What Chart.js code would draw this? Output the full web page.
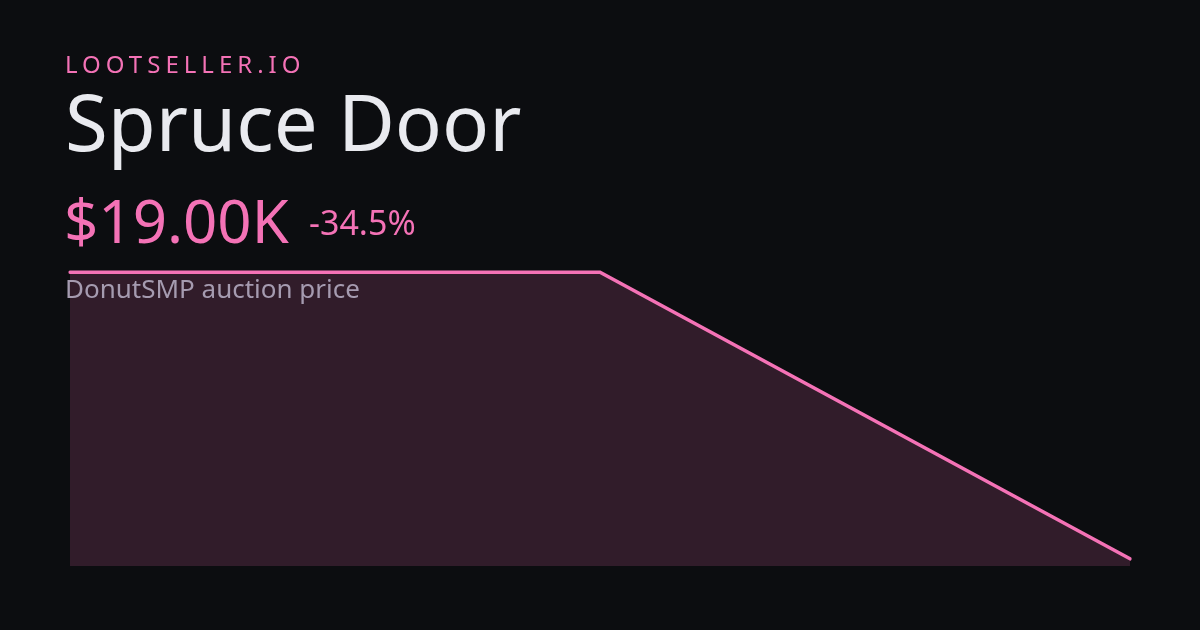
<!DOCTYPE html>
<html>
<head>
<meta charset="utf-8">
<script src="https://cdn.jsdelivr.net/npm/chart.js@4"></script>
<style>
  html, body { margin: 0; padding: 0; background: #0c0d10; }
  body { width: 1200px; height: 630px; position: relative; overflow: hidden; font-family: "Noto Sans", sans-serif; }
  #chart { position: absolute; left: 0; top: 0; }
  .txt { position: absolute; line-height: 1; white-space: nowrap; }
  .brand { left: 65px; top: 52px; font-size: 24px; letter-spacing: 5px; color: #f472b6; }
  .title { left: 65px; top: 82px; font-size: 78px; color: #e9eaef; }
  .price { left: 64px; top: 190px; font-size: 60px; color: #f472b6; }
  .change { left: 309px; top: 205px; font-size: 34px; color: #f472b6; }
  .sub { left: 65px; top: 275px; font-size: 26px; color: #a59bb0; }
</style>
</head>
<body>
<canvas id="chart" width="1200" height="630"></canvas>
<div class="txt brand">LOOTSELLER.IO</div>
<div class="txt title">Spruce Door</div>
<div class="txt price">$19.00K</div>
<div class="txt change">-34.5%</div>
<div class="txt sub">DonutSMP auction price</div>
<script>
// Price history

const labels = ['1', '2', '3'];
const prices = [29000, 29000, 19000];
const yMin = 18750;
const yMax = 29250;

const priceChart = document.querySelector('#chart');

const priceData = {
  labels: labels,
  datasets: [{
    data: prices,
    borderColor: '#f472b6',
    backgroundColor: 'rgba(244, 114, 182, 0.16)',
    borderWidth: 3.5,
    borderCapStyle: 'round',
    pointRadius: 0,
    tension: 0,
    fill: 'start'
  }]
};

const priceOptions = {
  responsive: false,
  animation: false,
  layout: {
    padding: { left: 70, right: 70, top: 265, bottom: 64 }
  },
  scales: {
    x: { display: false },
    y: { display: false, min: yMin, max: yMax }
  },
  plugins: {
    legend: { display: false },
    tooltip: { enabled: false }
  }
};

const priceLineChart = new Chart(priceChart, {
  type: 'line',
  data: priceData,
  options: priceOptions
});
</script>
</body>
</html>
